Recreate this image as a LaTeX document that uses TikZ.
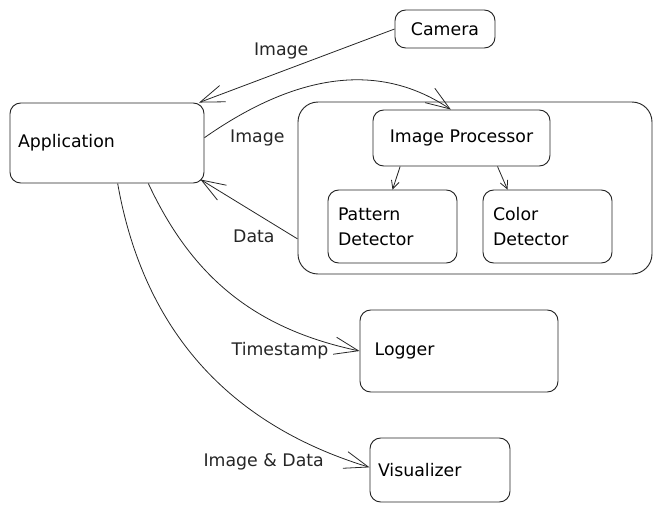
\documentclass[tikz,border=0pt]{standalone}
\usepackage{fontspec}
\setmainfont{DejaVu Sans}
\usetikzlibrary{arrows.meta, positioning}

\begin{document}
\begin{tikzpicture}[
    x=0.75pt, y=-0.75pt,
    font=\fontsize{13}{19}\selectfont,
    box/.style={rectangle, draw=black!85, line width=0.7pt, rounded corners=8pt, inner xsep=6pt, inner ysep=3pt, align=left},
    flow/.style={-{Straight Barb[length=18pt, width=13pt]}, line width=0.6pt, black!85},
    small_flow/.style={-{Straight Barb[length=6pt, width=6pt]}, line width=0.6pt, black!85},
    edge_lbl/.style={font=\fontsize{13}{15}\selectfont, inner sep=1pt}
]
    \useasboundingbox (0,0) rectangle (662,512);

    \node[box, text width=133.5pt, minimum height=60pt] (app) at (107,143) {Application};
    \node[box, align=center, minimum width=75pt, minimum height=28.5pt] (cam) at (445,29) {Camera};
    \node[box, rounded corners=15pt, minimum width=265.5pt, minimum height=129pt] (pipe) at (475,188) {};
    \node[box, align=center, minimum width=132.75pt, minimum height=42pt] (proc) at (461.5,138) {Image Processor};
    \node[box, inner xsep=7.5pt, text width=81.75pt, minimum height=54.75pt] (pdet) at (392.5,226.5) {Pattern\\Detector};
    \node[box, inner xsep=7.5pt, text width=81.75pt, minimum height=54.75pt] (cdet) at (547.5,226.5) {Color\\Detector};
    \node[box, inner xsep=11pt, text width=126.5pt, minimum height=61.5pt] (logger) at (459,351) {Logger};
    \node[box, text width=93pt, minimum height=48pt] (vis) at (440,470) {Visualizer};

    \draw[flow] (cam.west) -- node[edge_lbl, pos=0.58, above=8pt] {Image} ([xshift=-4pt]app.north east);
    \draw[flow] ([yshift=4pt]app.east) to[out=35, in=146] node[edge_lbl, at start, right=18pt] {Image} ([xshift=-8pt]proc.north);
    \draw[flow] (pipe.196) -- node[edge_lbl, pos=0.45, below=12pt] {Data} ([shift={(-3pt,3pt)}]app.south east);
    \draw[flow] ([xshift=31pt]app.south) to[out=-65, in=168] node[edge_lbl, at end, left=22pt] {Timestamp} (logger.west);
    \draw[flow] ([xshift=8pt]app.south) to[out=-80, in=163] node[edge_lbl, at end, left=33pt, yshift=4pt] {Image \& Data} ([yshift=2pt]vis.west);
    \draw[small_flow] ([xshift=-46pt]proc.south) -- (pdet.north);
    \draw[small_flow] ([xshift=27pt]proc.south) -- ([xshift=-30pt]cdet.north);
\end{tikzpicture}
\end{document}
